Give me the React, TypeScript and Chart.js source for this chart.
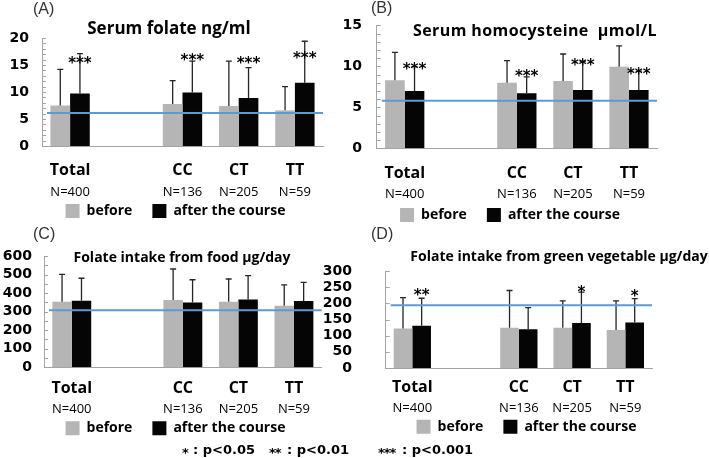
import React, { useEffect, useRef } from 'react';
import { Chart, registerables } from 'chart.js';

Chart.register(...registerables);

// ---------- data ----------
const categories = ['Total', '', 'CC', 'CT', 'TT'];
const groupSizes = ['N=400', '', 'N=136', 'N=205', 'N=59'];
const seriesLabels = ['before', 'after the course'];

// (A) Serum folate ng/ml
const folateBefore = [7.5, null, 7.8, 7.4, 6.6];
const folateAfter = [9.7, null, 9.9, 8.9, 11.7];
const folateBeforeSd = [6.7, null, 4.3, 8.3, 4.4];
const folateAfterSd = [7.4, null, 5.8, 5.6, 7.7];
const folateStars = ['***', '', '***', '***', '***'];
const folateStarLevel = [16.1, null, 16.6, 16.1, 17.0];
const folateRef = 6.1;

// (B) Serum homocysteine umol/L
const hcyBefore = [8.3, null, 8.0, 8.2, 9.95];
const hcyAfter = [7.0, null, 6.7, 7.1, 7.1];
const hcyBeforeSd = [3.4, null, 2.7, 3.3, 2.55];
const hcyAfterSd = [2.95, null, 2.0, 3.5, 2.3];
const hcyStars = ['***', '', '***', '***', '***'];
const hcyStarLevel = [10.1, null, 9.3, 10.6, 9.5];
const hcyRef = 5.8;

// (C) Folate intake from food ug/day
const foodBefore = [354, null, 363, 354, 332];
const foodAfter = [359, null, 350, 366, 357];
const foodBeforeSd = [147, null, 167, 122, 112];
const foodAfterSd = [121, null, 122, 128, 101];
const foodStars = ['', '', '', '', ''];
const foodStarLevel = [null, null, null, null, null];
const foodRef = 307;

// (D) Folate intake from green vegetable ug/day
const vegBefore = [122, null, 125, 125, 118];
const vegAfter = [131, null, 120, 139, 141];
const vegBeforeSd = [96, null, 115, 83, 90];
const vegAfterSd = [85, null, 67, 96, 74];
const vegStars = ['**', '', '', '*', '*'];
const vegStarLevel = [238, null, null, 248, 235];
const vegRef = 194;

const footnoteMarks = ['*', '**', '***'];
const footnoteTexts = ['p<0.05', 'p<0.01', 'p<0.001'];

// ---------- panel layout ----------
const panels = [
  {
    key: 'A', tag: '(A)', title: 'Serum folate ng/ml', titleSize: 17, titleSpacing: 0,
    before: folateBefore, after: folateAfter, beforeSd: folateBeforeSd, afterSd: folateAfterSd,
    stars: folateStars, starLevel: folateStarLevel, ref: folateRef,
    yMax: 20, yStep: 5, minorStep: 1,
    box: { left: 0, top: 0, width: 340, height: 229 },
    padding: { left: 28, right: 17, top: 38, bottom: 1 },
    yWidth: 14, yPad: 13, rightWidth: 0,
    xH: 28, xPad: 14.4, x2H: 10, x2Pad: 10.4,
    tagPos: { left: 33, top: 1 }, titlePos: { cx: 169, top: 18.5 },
  },
  {
    key: 'B', tag: '(B)', title: 'Serum homocysteine  \u00b5mol/L', titleSize: 16, titleSpacing: 0.4,
    before: hcyBefore, after: hcyAfter, beforeSd: hcyBeforeSd, afterSd: hcyAfterSd,
    stars: hcyStars, starLevel: hcyStarLevel, ref: hcyRef,
    yMax: 15, yStep: 5, minorStep: 1,
    box: { left: 330, top: 0, width: 379, height: 233 },
    padding: { left: 33, right: 52, top: 25.3, bottom: 1 },
    yWidth: 13.7, yPad: 14.7, rightWidth: 0,
    xH: 30, xPad: 15.1, x2H: 9.7, x2Pad: 8.1,
    tagPos: { left: 371, top: 0 }, titlePos: { cx: 535, top: 22 },
  },
  {
    key: 'C', tag: '(C)', title: 'Folate intake from food \u00b5g/day', titleSize: 14, titleSpacing: 0,
    before: foodBefore, after: foodAfter, beforeSd: foodBeforeSd, afterSd: foodAfterSd,
    stars: foodStars, starLevel: foodStarLevel, ref: foodRef,
    yMax: 600, yStep: 100, minorStep: 50,
    box: { left: 0, top: 229, width: 340, height: 229 },
    padding: { left: 29.3, right: 18.3, top: 27, bottom: 12.7 },
    yWidth: 14.7, yPad: 12, rightWidth: 0,
    xH: 26, xPad: 11.4, x2H: 8, x2Pad: 8.1,
    tagPos: { left: 33, top: 226 }, titlePos: { cx: 182, top: 249.5 },
  },
  {
    key: 'D', tag: '(D)', title: 'Folate intake from green vegetable \u00b5g/day', titleSize: 14, titleSpacing: 0,
    before: vegBefore, after: vegAfter, beforeSd: vegBeforeSd, afterSd: vegAfterSd,
    stars: vegStars, starLevel: vegStarLevel, ref: vegRef,
    yMax: 300, yStep: 50, minorStep: 50,
    box: { left: 320, top: 229, width: 389, height: 229 },
    padding: { left: 61, right: 37, top: 26, bottom: 14.3 },
    yWidth: 4.7, yPad: 33.7, rightWidth: 20,
    xH: 24, xPad: 9.7, x2H: 7.7, x2Pad: 8.4,
    tagPos: { left: 371, top: 226 }, titlePos: { cx: 559, top: 249 },
  },
];

const BEFORE_COLOR = '#b5b5b5';
const AFTER_COLOR = '#050505';
const REF_COLOR = '#5b9bd5';
const AXIS_COLOR = '#a3a3a3';

// let tick labels draw outside of their (deliberately narrow) axis boxes
const noLabelClip = (s: any) => {
  s._computeLabelArea = () => undefined;
};

function makeOverlay(spec: any) {
  return {
    id: 'overlay' + spec.key,
    beforeDatasetsDraw(chart: any) {
      const ctx = chart.ctx;
      const y = chart.scales.y;
      const area = chart.chartArea;
      ctx.save();
      ctx.strokeStyle = AXIS_COLOR;
      ctx.lineWidth = 1;
      for (let v = 0; v <= spec.yMax + 1e-9; v += spec.minorStep) {
        const py = Math.round(y.getPixelForValue(v)) + 0.5;
        ctx.beginPath();
        ctx.moveTo(area.left, py);
        ctx.lineTo(area.left + 4, py);
        ctx.stroke();
      }
      ctx.restore();
    },
    afterDatasetsDraw(chart: any) {
      const ctx = chart.ctx;
      const y = chart.scales.y;
      const area = chart.chartArea;
      ctx.save();
      // error bars
      const groups = [
        [spec.before, spec.beforeSd],
        [spec.after, spec.afterSd],
      ];
      groups.forEach(([vals, sds]: any, di: number) => {
        const meta = chart.getDatasetMeta(di);
        meta.data.forEach((el: any, i: number) => {
          const v = vals[i];
          const sd = sds[i];
          if (v == null || sd == null) return;
          const x = el.x;
          const base = y.getPixelForValue(v);
          const top = y.getPixelForValue(v + sd);
          ctx.strokeStyle = '#262626';
          ctx.lineWidth = 1.3;
          ctx.beginPath();
          ctx.moveTo(x, base);
          ctx.lineTo(x, top);
          ctx.moveTo(x - 3, top);
          ctx.lineTo(x + 3, top);
          ctx.stroke();
        });
      });
      // reference line
      const ry = y.getPixelForValue(spec.ref);
      ctx.strokeStyle = REF_COLOR;
      ctx.lineWidth = 2;
      ctx.beginPath();
      ctx.moveTo(area.left + 5, ry);
      ctx.lineTo(area.right, ry);
      ctx.stroke();
      // significance marks
      const afterMeta = chart.getDatasetMeta(1);
      ctx.fillStyle = '#000';
      ctx.font = 'bold 15px "DejaVu Sans"';
      ctx.textAlign = 'center';
      ctx.textBaseline = 'alphabetic';
      spec.stars.forEach((s: string, i: number) => {
        const lvl = spec.starLevel[i];
        if (!s || lvl == null) return;
        const el = afterMeta.data[i];
        ctx.fillText(s, el.x, y.getPixelForValue(lvl) + 0.59 * 15);
      });
      ctx.restore();
    },
  };
}

const hiddenGrid = { display: false, drawTicks: false, drawOnChartArea: false };

function buildConfig(spec: any): any {
  const scales: any = {
    x: {
      type: 'category',
      offset: true,
      grid: hiddenGrid,
      border: { display: true, color: AXIS_COLOR, width: 1 },
      ticks: {
        autoSkip: false,
        maxRotation: 0,
        padding: spec.xPad,
        color: '#000',
        font: { family: 'Open Sans', weight: 'bold', size: 16 },
      },
      afterFit: (s: any) => { s.height = spec.xH; noLabelClip(s); },
    },
    x2: {
      type: 'category',
      position: 'bottom',
      labels: groupSizes,
      offset: true,
      weight: 1,
      grid: hiddenGrid,
      border: { display: false },
      ticks: {
        autoSkip: false,
        maxRotation: 0,
        padding: spec.x2Pad,
        color: '#000',
        font: { family: 'Open Sans', size: 13 },
      },
      afterFit: (s: any) => { s.height = spec.x2H; noLabelClip(s); },
    },
    y: {
      min: 0,
      max: spec.yMax,
      grid: hiddenGrid,
      border: { display: true, color: AXIS_COLOR, width: 1 },
      ticks: {
        autoSkip: false,
        stepSize: spec.yStep,
        padding: spec.yPad,
        color: '#000',
        font: { family: 'DejaVu Sans', weight: 'bold', size: 14 },
      },
      afterFit: (s: any) => { s.width = spec.yWidth; noLabelClip(s); },
    },
  };
  if (spec.rightWidth > 0) {
    scales.yPad = {
      type: 'linear',
      position: 'right',
      display: true,
      grid: hiddenGrid,
      border: { display: false },
      ticks: { display: false },
      afterFit: (s: any) => { s.width = spec.rightWidth; },
    };
  }
  return {
    type: 'bar',
    data: {
      labels: categories,
      datasets: [
        {
          label: seriesLabels[0],
          data: spec.before,
          backgroundColor: BEFORE_COLOR,
          borderWidth: 0,
          categoryPercentage: 0.7,
          barPercentage: 1.0,
        },
        {
          label: seriesLabels[1],
          data: spec.after,
          backgroundColor: AFTER_COLOR,
          borderWidth: 0,
          categoryPercentage: 0.7,
          barPercentage: 1.0,
        },
      ],
    },
    options: {
      animation: false,
      responsive: false,
      maintainAspectRatio: false,
      devicePixelRatio: 1,
      layout: { padding: spec.padding },
      scales,
      plugins: {
        tooltip: { enabled: false },
        title: { display: false },
        legend: {
          display: true,
          position: 'bottom',
          labels: {
            boxWidth: 14,
            boxHeight: 14,
            padding: 20,
            color: '#000',
            font: { family: 'Open Sans', weight: 'bold', size: 14 },
          },
        },
      },
    },
    plugins: [makeOverlay(spec)],
  };
}

function Panel({ spec }: { spec: any }) {
  const ref = useRef<HTMLCanvasElement>(null);
  useEffect(() => {
    const chart = new Chart(ref.current as HTMLCanvasElement, buildConfig(spec));
    return () => chart.destroy();
  }, []);
  const b = spec.box;
  return (
    <canvas
      ref={ref}
      width={b.width}
      height={b.height}
      style={{ position: 'absolute', left: b.left, top: b.top, width: b.width, height: b.height }}
    />
  );
}

const footnoteLayout = [
  { left: 182, markWidth: 11 },
  { left: 269, markWidth: 18 },
  { left: 378, markWidth: 24 },
];

export default function App() {
  return (
    <div style={{ position: 'absolute', left: 0, top: 0, width: 709, height: 458, background: '#fff', overflow: 'hidden' }}>
      {panels.map((p) => (
        <Panel key={p.key} spec={p} />
      ))}
      {panels.map((p) => (
        <div
          key={'tag' + p.key}
          style={{
            position: 'absolute', left: p.tagPos.left, top: p.tagPos.top,
            font: '16px "Liberation Sans"', lineHeight: 1, color: '#333', whiteSpace: 'pre',
          }}
        >
          {p.tag}
        </div>
      ))}
      {panels.map((p) => (
        <div
          key={'title' + p.key}
          style={{
            position: 'absolute', left: p.titlePos.cx - 200, width: 400, top: p.titlePos.top,
            textAlign: 'center', fontFamily: '"Open Sans"', fontWeight: 700, fontSize: p.titleSize,
            letterSpacing: p.titleSpacing, lineHeight: 1, color: '#000', whiteSpace: 'pre',
          }}
        >
          {p.title}
        </div>
      ))}
      {footnoteTexts.map((t, i) => (
        <div
          key={'fn' + i}
          style={{
            position: 'absolute', left: footnoteLayout[i].left, top: 443.3,
            fontFamily: '"DejaVu Sans"', fontWeight: 700, fontSize: 13, lineHeight: 1,
            color: '#000', whiteSpace: 'pre',
          }}
        >
          <span style={{ display: 'inline-block', width: footnoteLayout[i].markWidth, position: 'relative', top: 3, fontSize: 13, letterSpacing: -1 }}>
            {footnoteMarks[i]}
          </span>
          {': ' + t}
        </div>
      ))}
    </div>
  );
}
